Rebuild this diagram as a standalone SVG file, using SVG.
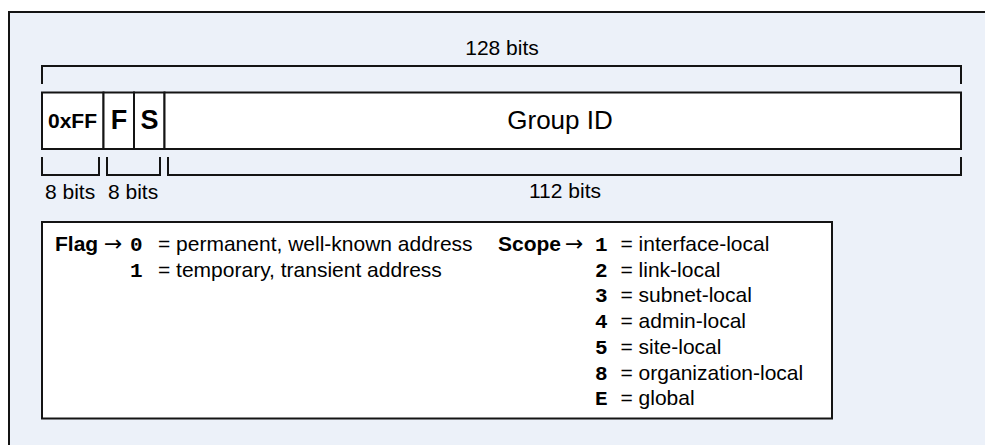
<svg xmlns="http://www.w3.org/2000/svg" width="985" height="445" viewBox="0 0 985 445">
  <style>
    .ln { fill: none; stroke: #141414; stroke-width: 2; }
    .box { fill: #ffffff; stroke: #141414; stroke-width: 2; }
    .t { font-family: "Liberation Sans", Arial, sans-serif; fill: #000000; }
    .b { font-weight: bold; }
    .m { font-family: "Liberation Mono", "Courier New", monospace; font-weight: bold; fill: #000000; }
    .arr { font-family: "DejaVu Sans", sans-serif; font-size: 22px; fill: #000000; }
    .s21 { font-size: 21px; }
  </style>

  <!-- background panel -->
  <rect x="0" y="0" width="985" height="445" fill="#ffffff"/>
  <rect x="9" y="12" width="977" height="434" fill="#ecf1f9"/>
  <path d="M9,446 V12 H986" fill="none" stroke="#141414" stroke-width="2"/>

  <!-- total width bracket -->
  <g id="bracket-128">
    <path class="ln" d="M42,84 V66 H961 V84"/>
    <text class="t s21" x="502" y="55" text-anchor="middle">128 bits</text>
  </g>

  <!-- address field row -->
  <g id="field-prefix">
    <rect class="box" x="42" y="92.5" width="61.5" height="56.5"/>
    <text class="t b s21" x="72.5" y="127.5" text-anchor="middle">0xFF</text>
  </g>
  <g id="field-flags">
    <rect class="box" x="103.5" y="92.5" width="30.5" height="56.5"/>
    <text class="t b" font-size="27" x="119" y="129" text-anchor="middle">F</text>
  </g>
  <g id="field-scope">
    <rect class="box" x="134" y="92.5" width="30.5" height="56.5"/>
    <text class="t b" font-size="27" x="149.5" y="129" text-anchor="middle">S</text>
  </g>
  <g id="field-group-id">
    <rect class="box" x="164.5" y="92.5" width="796.5" height="56.5"/>
    <text class="t" font-size="26" x="560" y="129" text-anchor="middle">Group ID</text>
  </g>

  <!-- width brackets under the fields -->
  <g id="brackets-lower">
    <path class="ln" d="M42,157 V175 H99 V157"/>
    <path class="ln" d="M107,157 V175 H160 V157"/>
    <path class="ln" d="M168,157 V175 H961 V157"/>
    <text class="t s21" x="45" y="199">8 bits</text>
    <text class="t s21" x="108" y="199">8 bits</text>
    <text class="t s21" x="565" y="198" text-anchor="middle">112 bits</text>
  </g>

  <!-- legend -->
  <g id="legend">
    <rect class="box" x="42" y="222" width="790" height="196.5"/>

    <text class="t b s21" x="55" y="251">Flag</text>
    <text class="arr" x="104" y="251">→</text>
    <text class="m s21" x="130" y="251">0</text>
    <text class="t s21" x="158" y="251">= permanent, well-known address</text>
    <text class="m s21" x="130" y="277">1</text>
    <text class="t s21" x="158" y="277">= temporary, transient address</text>

    <text class="t b s21" x="498" y="251">Scope</text>
    <text class="arr" x="565" y="251">→</text>
    <text class="m s21" x="595" y="251">1</text>
    <text class="t s21" x="620.5" y="251">= interface-local</text>
    <text class="m s21" x="595" y="276.7">2</text>
    <text class="t s21" x="620.5" y="276.7">= link-local</text>
    <text class="m s21" x="595" y="302.4">3</text>
    <text class="t s21" x="620.5" y="302.4">= subnet-local</text>
    <text class="m s21" x="595" y="328.1">4</text>
    <text class="t s21" x="620.5" y="328.1">= admin-local</text>
    <text class="m s21" x="595" y="353.8">5</text>
    <text class="t s21" x="620.5" y="353.8">= site-local</text>
    <text class="m s21" x="595" y="379.5">8</text>
    <text class="t s21" x="620.5" y="379.5">= organization-local</text>
    <text class="m s21" x="595" y="405.2">E</text>
    <text class="t s21" x="620.5" y="405.2">= global</text>
  </g>
</svg>
